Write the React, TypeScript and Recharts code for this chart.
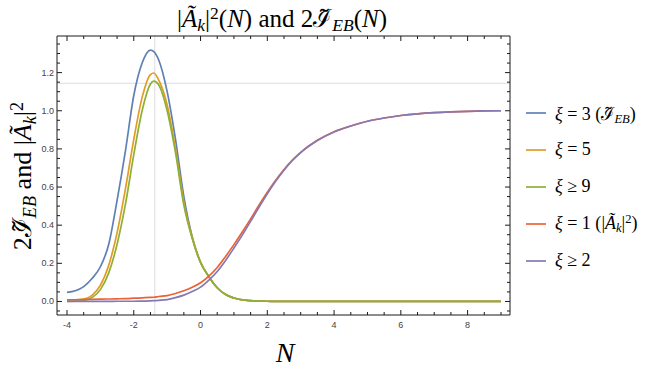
import { LineChart, Line, XAxis, YAxis, ReferenceLine } from 'recharts';

// sample points along N (denser near the peak)
const nValues = [
  -4, -3.75, -3.5, -3.25, -3, -2.75, -2.5, -2.25, -2, -1.75,
  -1.5, -1.4, -1.25, -1, -0.75, -0.5, -0.25, 0, 0.25, 0.5,
  0.75, 1, 1.25, 1.5, 1.75, 2, 2.25, 2.5, 2.75, 3,
  3.5, 4, 4.5, 5, 5.5, 6, 6.5, 7, 7.5, 8,
  8.5, 9,
];

// xi = 3 (I_EB)
const xi3 = [
  0.048, 0.056, 0.078, 0.12, 0.182, 0.3, 0.53, 0.79, 1.08, 1.25,
  1.318, 1.31, 1.265, 1.1, 0.85, 0.55, 0.34, 0.205, 0.13, 0.072,
  0.036, 0.018, 0.008, 0.004, 0.002, 0.001, 0, 0, 0, 0,
  0, 0, 0, 0, 0, 0, 0, 0, 0, 0,
  0, 0,
];

// xi = 5
const xi5 = [
  0.008, 0.008, 0.012, 0.032, 0.085, 0.19, 0.36, 0.59, 0.85, 1.07,
  1.19, 1.198, 1.16, 1.03, 0.8, 0.52, 0.335, 0.205, 0.13, 0.072,
  0.036, 0.018, 0.008, 0.004, 0.002, 0.001, 0, 0, 0, 0,
  0, 0, 0, 0, 0, 0, 0, 0, 0, 0,
  0, 0,
];

// xi >= 9
const xi9 = [
  0, 0.001, 0.005, 0.02, 0.062, 0.15, 0.3, 0.51, 0.77, 1.0,
  1.14, 1.155, 1.135, 1.0, 0.78, 0.505, 0.33, 0.205, 0.13, 0.072,
  0.036, 0.018, 0.008, 0.004, 0.002, 0.001, 0, 0, 0, 0,
  0, 0, 0, 0, 0, 0, 0, 0, 0, 0,
  0, 0,
];

// xi = 1 (|A_k|^2)
const xi1 = [
  0.009, 0.009, 0.01, 0.011, 0.012, 0.013, 0.014, 0.015, 0.017, 0.019,
  0.021, 0.022, 0.026, 0.031, 0.042, 0.056, 0.074, 0.098, 0.133, 0.178,
  0.236, 0.298, 0.364, 0.433, 0.505, 0.573, 0.636, 0.692, 0.741, 0.782,
  0.845, 0.89, 0.92, 0.945, 0.962, 0.975, 0.984, 0.99, 0.994, 0.997,
  0.999, 1.0,
];

// xi >= 2
const xi2 = [
  0, 0, 0, 0, 0, 0, 0.001, 0.001, 0.001, 0.002,
  0.003, 0.004, 0.006, 0.01, 0.02, 0.033, 0.052, 0.075, 0.112, 0.157,
  0.215, 0.28, 0.348, 0.42, 0.494, 0.565, 0.63, 0.688, 0.739, 0.781,
  0.844, 0.889, 0.92, 0.945, 0.962, 0.975, 0.984, 0.99, 0.994, 0.997,
  0.999, 1.0,
];

const xMajor = [-4, -2, 0, 2, 4, 6, 8];
const yMajor = [0, 0.2, 0.4, 0.6, 0.8, 1.0, 1.2];

// grid lines marking the xi >= 9 peak
const peakN = -1.37;
const peakLevel = 1.144;

const rows = nValues.map((n, i) => ({
  n,
  xi3: xi3[i],
  xi5: xi5[i],
  xi9: xi9[i],
  xi1: xi1[i],
  xi2: xi2[i],
}));

const steps = (from: number, to: number, step: number) => {
  const out: number[] = [];
  for (let v = from; v <= to + 1e-9; v += step) out.push(Math.round(v * 100) / 100);
  return out;
};
const xTicks = steps(-4, 9, 0.5);
const yTicks = steps(-0.05, 1.35, 0.05);

const xDomain = [-4.3, 9.27];
const yDomain = [-0.071, 1.392];

const COLORS = {
  xi3: '#5e81b5',
  xi5: '#e19c24',
  xi9: '#8fb032',
  xi1: '#eb6235',
  xi2: '#8778b3',
};

const FRAME = '#1a1a1a';
const SERIF = "'Liberation Serif', 'DejaVu Serif', serif";
const SANS = "'Liberation Sans', Arial, sans-serif";

const isMajor = (v: number, majors: number[]) => majors.some(m => Math.abs(m - v) < 1e-6);

// ticks point inward, like a Mathematica frame
function FrameTick(props: any) {
  const { x, y, payload, side, majors, showLabel } = props;
  const v = payload.value as number;
  const major = isMajor(v, majors);
  const len = major ? 5 : 3;
  let line;
  let label = null;
  if (side === 'bottom') {
    line = <line x1={x} y1={y} x2={x} y2={y - len} stroke={FRAME} />;
    if (major && showLabel)
      label = <text x={x} y={y + 12.5} textAnchor="middle" fontSize={9} fill="#444" fontFamily={SANS}>{String(v)}</text>;
  } else if (side === 'top') {
    line = <line x1={x} y1={y} x2={x} y2={y + len} stroke={FRAME} />;
  } else if (side === 'left') {
    line = <line x1={x} y1={y} x2={x + len} y2={y} stroke={FRAME} />;
    if (major && showLabel)
      label = <text x={x - 3} y={y + 3} textAnchor="end" fontSize={9} fill="#444" fontFamily={SANS}>{v.toFixed(1)}</text>;
  } else {
    line = <line x1={x} y1={y} x2={x - len} y2={y} stroke={FRAME} />;
  }
  return <g>{line}{label}</g>;
}

const sub = { fontSize: '0.7em', verticalAlign: '-0.25em', lineHeight: 0 };
const sup = { fontSize: '0.7em', verticalAlign: '0.45em', lineHeight: 0 };

const IEB = () => (
  <>
    <span>ℐ{'\u0303'}</span>
    <sub style={sub}><i>EB</i></sub>
  </>
);
const Ak2 = () => (
  <>
    |<i>Ã</i><sub style={sub}><i>k</i></sub>|<sup style={sup}>2</sup>
  </>
);

const legendItems = [
  { key: 'xi3', label: <><i>ξ</i> = 3 (<IEB />)</> },
  { key: 'xi5', label: <><i>ξ</i> = 5</> },
  { key: 'xi9', label: <><i>ξ</i> ≥ 9</> },
  { key: 'xi1', label: <><i>ξ</i> = 1 (<Ak2 />)</> },
  { key: 'xi2', label: <><i>ξ</i> ≥ 2</> },
];

export default function App() {
  return (
    <div style={{ position: 'absolute', left: 0, top: 0, width: 664, height: 372, background: '#fff', fontFamily: SERIF }}>
      <LineChart width={664} height={372} data={rows} margin={{ top: 35, right: 150, bottom: 27, left: 17 }}>
        <XAxis
          dataKey="n"
          type="number"
          domain={xDomain}
          allowDataOverflow
          ticks={xTicks}
          interval={0}
          tickSize={0}
          tickMargin={0}
          height={30}
          axisLine={{ stroke: FRAME }}
          tickLine={false}
          tick={(p: any) => <FrameTick {...p} side="bottom" majors={xMajor} showLabel />}
        />
        <XAxis
          xAxisId="top"
          orientation="top"
          dataKey="n"
          type="number"
          domain={xDomain}
          allowDataOverflow
          ticks={xTicks}
          interval={0}
          tickSize={0}
          tickMargin={0}
          height={1}
          axisLine={{ stroke: FRAME }}
          tickLine={false}
          tick={(p: any) => <FrameTick {...p} side="top" majors={xMajor} />}
        />
        <YAxis
          type="number"
          domain={yDomain}
          allowDataOverflow
          ticks={yTicks}
          interval={0}
          tickSize={0}
          tickMargin={0}
          width={40}
          axisLine={{ stroke: FRAME }}
          tickLine={false}
          tick={(p: any) => <FrameTick {...p} side="left" majors={yMajor} showLabel />}
        />
        <YAxis
          yAxisId="right"
          orientation="right"
          type="number"
          domain={yDomain}
          allowDataOverflow
          ticks={yTicks}
          interval={0}
          tickSize={0}
          tickMargin={0}
          width={4}
          axisLine={{ stroke: FRAME }}
          tickLine={false}
          tick={(p: any) => <FrameTick {...p} side="right" majors={yMajor} />}
        />
        <ReferenceLine x={peakN} stroke="#dddddd" strokeWidth={1} />
        <ReferenceLine y={peakLevel} stroke="#dddddd" strokeWidth={1} />
        <Line type="monotone" dataKey="xi3" stroke={COLORS.xi3} strokeWidth={1.7} dot={false} isAnimationActive={false} />
        <Line type="monotone" dataKey="xi5" stroke={COLORS.xi5} strokeWidth={1.7} dot={false} isAnimationActive={false} />
        <Line type="monotone" dataKey="xi9" stroke={COLORS.xi9} strokeWidth={1.7} dot={false} isAnimationActive={false} />
        <Line type="monotone" dataKey="xi1" stroke={COLORS.xi1} strokeWidth={1.7} dot={false} isAnimationActive={false} />
        <Line type="monotone" dataKey="xi2" stroke={COLORS.xi2} strokeWidth={1.7} dot={false} isAnimationActive={false} />
      </LineChart>

      {/* title */}
      <div style={{ position: 'absolute', left: 82, width: 400, top: 6, textAlign: 'center', fontSize: 25, lineHeight: '26px', whiteSpace: 'nowrap' }}>
        <Ak2 />(<i>N</i>) and 2<IEB />(<i>N</i>)
      </div>

      {/* y label */}
      <div
        style={{
          position: 'absolute', left: 23 - 150, top: 176 - 17, width: 300, height: 34,
          lineHeight: '34px', textAlign: 'center', fontSize: 26, whiteSpace: 'nowrap',
          transform: 'rotate(-90deg)',
        }}
      >
        2<IEB /> and <Ak2 />
      </div>

      {/* x label */}
      <div style={{ position: 'absolute', left: 235, width: 100, top: 339, textAlign: 'center', fontSize: 28, lineHeight: '28px' }}>
        <i>N</i>
      </div>

      {/* legend */}
      {legendItems.map((item, i) => (
        <div
          key={item.key}
          style={{ position: 'absolute', left: 526, top: 112.7 + i * 37 - 12, height: 24, display: 'flex', alignItems: 'center', fontSize: 18, whiteSpace: 'nowrap' }}
        >
          <svg width={20} height={4} style={{ display: 'block' }}>
            <line x1={0} y1={2} x2={20} y2={2} stroke={COLORS[item.key as keyof typeof COLORS]} strokeWidth={1.7} />
          </svg>
          <span style={{ marginLeft: 9 }}>{item.label}</span>
        </div>
      ))}
    </div>
  );
}
